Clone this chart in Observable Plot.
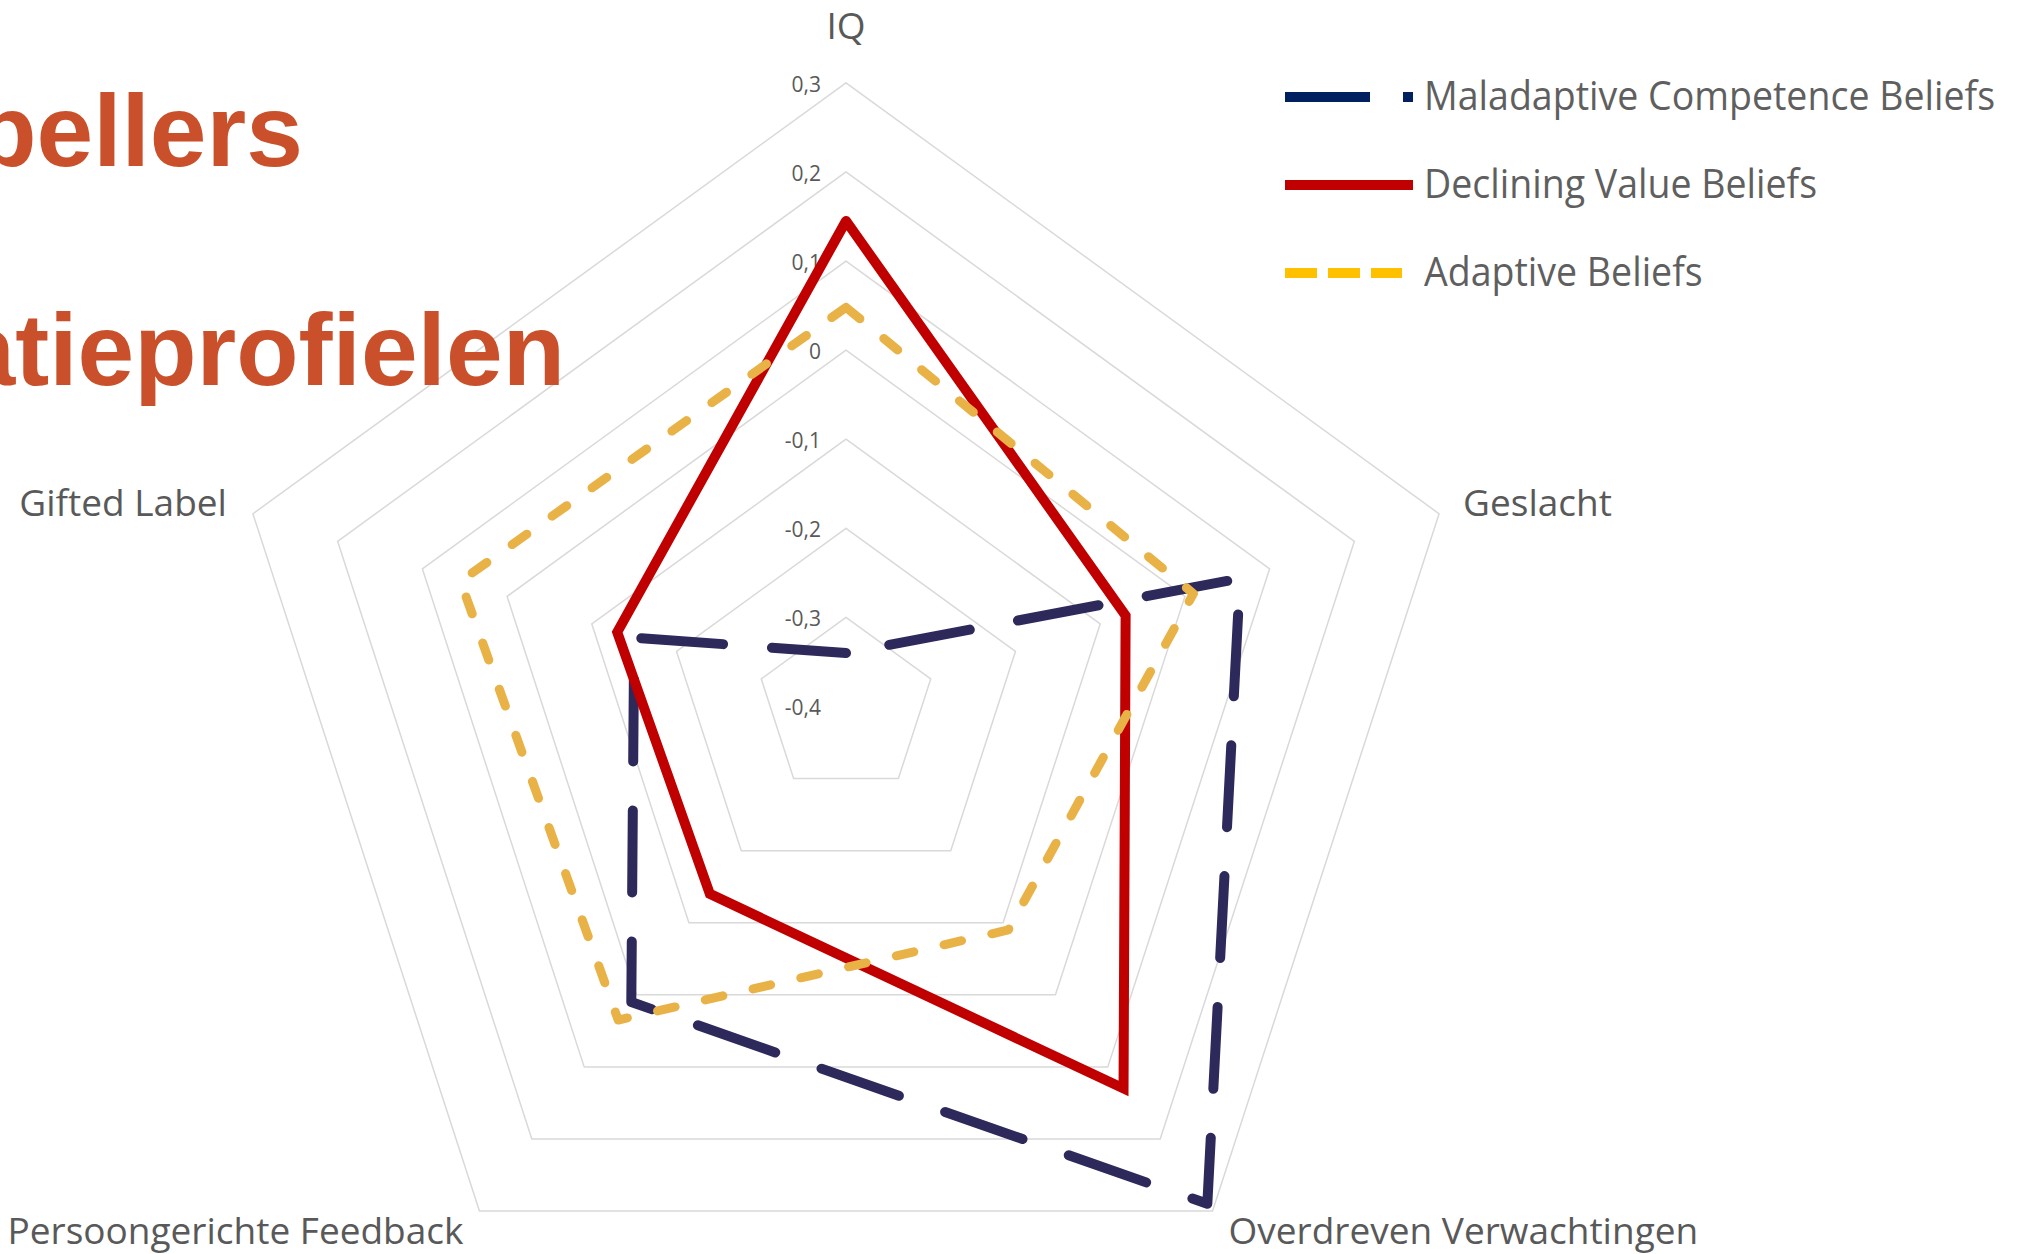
<!DOCTYPE html>
<html>
<head>
<meta charset="utf-8">
<script src="https://cdn.jsdelivr.net/npm/d3@7"></script>
<script src="https://cdn.jsdelivr.net/npm/@observablehq/plot@0.6"></script>
<style>
  html, body { margin: 0; padding: 0; background: #ffffff; }
  #wrap { position: relative; width: 2024px; height: 1254px; overflow: hidden; background: #fff; }
  #chart { position: absolute; left: 0; top: 0; }
  .title { position: absolute; font-family: "Liberation Sans", Arial, sans-serif; font-weight: bold;
           font-size: 102px; line-height: 102px; color: #c9502a; white-space: nowrap; }
  .legend-item { position: absolute; left: 1285px; height: 41px; white-space: nowrap; }
  .legend-item svg { position: absolute; left: 0; top: 0; overflow: visible; }
  .legend-text { position: absolute; left: 139px; top: 0; font-family: "Open Sans", sans-serif; font-size: 41px;
                 line-height: 41px; color: #5f5f5f; transform: scaleX(0.915); transform-origin: 0 0; }
</style>
</head>
<body>
<div id="wrap">
  <div id="chart"></div>
  <div class="title" style="right:1721px; top:80px;">Voorspellers</div>
  <div class="title" style="right:1459px; top:299px;">motivatieprofielen</div>
  <div id="legend"></div>
</div>
<script>
// ---------- data ----------
const axes = ["IQ", "Geslacht", "Overdreven Verwachtingen", "Persoongerichte Feedback", "Gifted Label"];
const seriesNames = ["Maladaptive Competence Beliefs", "Declining Value Beliefs", "Adaptive Beliefs"];
const maladaptive = [-0.34, 0.065, 0.29, 0.01, -0.15];
const declining   = [0.145, -0.07, 0.13, -0.14, -0.13];
const adaptive    = [0.048, 0.01, -0.09, 0.035, 0.055];
const ringValues  = [-0.3, -0.2, -0.1, 0, 0.1, 0.2, 0.3];
const tickValues  = [0.3, 0.2, 0.1, 0, -0.1, -0.2, -0.3, -0.4];
const tickLabels  = ["0,3", "0,2", "0,1", "0", "-0,1", "-0,2", "-0,3", "-0,4"];
const rMin = -0.4;

// ---------- layout / style ----------
const W = 2024, H = 1254;
const cx = 845.5, cy = 706, pxPerUnit = 890.9;
const seriesStyle = [
  {stroke: "#2d295b", strokeWidth: 10, strokeDasharray: "82,49", strokeDashoffset: 87, strokeLinecap: "round", strokeLinejoin: "round"},
  {stroke: "#c00000", strokeWidth: 10, strokeDasharray: null, strokeDashoffset: 0, strokeLinecap: "round", strokeLinejoin: "miter"},
  {stroke: "#e8b247", strokeWidth: 9, strokeDasharray: "18,31", strokeDashoffset: 0, strokeLinecap: "round", strokeLinejoin: "round"}
];
const legendStyle = [
  {stroke: "#002060", dash: "85,33", y: 97},
  {stroke: "#c00000", dash: null, y: 185},
  {stroke: "#ffc000", dash: "32,11", y: 273}
];
const labelPlacement = [
  {anchor: "middle", dx: 0, dy: -56},
  {anchor: "start", dx: 24, dy: -10},
  {anchor: "start", dx: 16, dy: 21},
  {anchor: "end", dx: -16, dy: 21},
  {anchor: "end", dx: -26, dy: -10}
];

// polar -> cartesian in data units
const n = axes.length;
const ang = i => (i % n) * 2 * Math.PI / n;
const px = (v, i) => (v - rMin) * Math.sin(ang(i));
const py = (v, i) => (v - rMin) * Math.cos(ang(i));
const closedIdx = d3.range(n + 1);

const ringPts = ringValues.flatMap(t => closedIdx.map(i => ({ring: t, x: px(t, i), y: py(t, i)})));
const seriesValues = [maladaptive, declining, adaptive];

const marks = [];
marks.push(Plot.line(ringPts, {x: "x", y: "y", z: "ring", stroke: "#d9d9d9", strokeWidth: 1.5}));
marks.push(Plot.text(tickValues, {
  x: () => 0, y: v => v - rMin, text: (d, i) => tickLabels[i],
  textAnchor: "end", dx: -25, dy: 2, fontSize: 21, fill: "#595959"
}));
seriesValues.forEach((vals, s) => {
  const pts = closedIdx.map(i => ({series: seriesNames[s], x: px(vals[i % n], i), y: py(vals[i % n], i)}));
  const st = seriesStyle[s];
  const opts = {x: "x", y: "y", stroke: st.stroke, strokeWidth: st.strokeWidth,
                strokeLinecap: st.strokeLinecap, strokeLinejoin: st.strokeLinejoin, strokeMiterlimit: 10};
  if (st.strokeDasharray) { opts.strokeDasharray = st.strokeDasharray; opts.strokeDashoffset = st.strokeDashoffset; }
  marks.push(Plot.line(pts, opts));
});
axes.forEach((a, i) => {
  const p = labelPlacement[i];
  marks.push(Plot.text([a], {
    x: () => px(0.3, i), y: () => py(0.3, i), text: d => d,
    textAnchor: p.anchor, dx: p.dx, dy: p.dy, fontSize: 37, fill: "#595959"
  }));
});

const chart = Plot.plot({
  width: W, height: H, margin: 0,
  x: {domain: [-cx / pxPerUnit, (W - cx) / pxPerUnit], axis: null},
  y: {domain: [-(H - cy) / pxPerUnit, cy / pxPerUnit], axis: null},
  style: {fontFamily: "'Open Sans', sans-serif", background: "transparent", overflow: "visible"},
  marks
});
document.getElementById("chart").appendChild(chart);

// ---------- legend ----------
const legend = document.getElementById("legend");
seriesNames.forEach((name, s) => {
  const ls = legendStyle[s];
  const item = document.createElement("div");
  item.className = "legend-item";
  item.style.top = (ls.y - 20) + "px";
  const svg = d3.create("svg").attr("width", 130).attr("height", 41);
  const len = s === 2 ? 117 : 128;
  svg.append("line").attr("x1", 0).attr("x2", len).attr("y1", 20).attr("y2", 20)
    .attr("stroke", ls.stroke).attr("stroke-width", 10)
    .attr("stroke-dasharray", ls.dash);
  item.appendChild(svg.node());
  const t = document.createElement("div");
  t.className = "legend-text";
  t.style.top = (20 + 13 - 36.4) + "px";
  t.textContent = name;
  item.appendChild(t);
  legend.appendChild(item);
});
</script>
</body>
</html>
